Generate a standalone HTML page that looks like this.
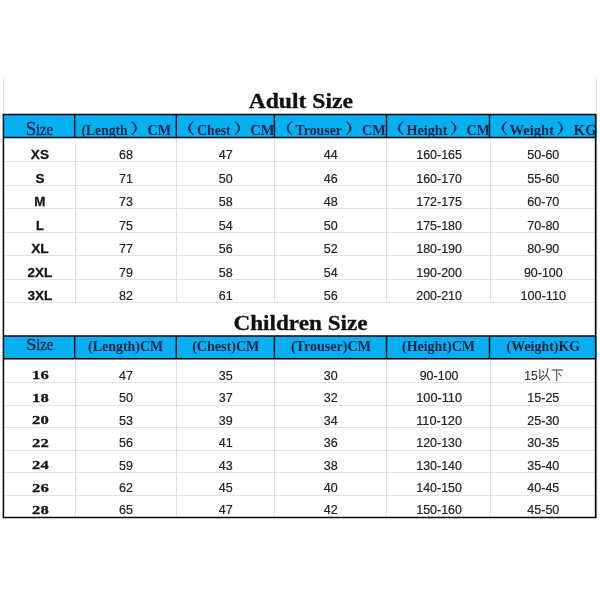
<!DOCTYPE html>
<html><head><meta charset="utf-8"><title>Size Chart</title>
<style>
html,body{margin:0;padding:0;background:#fff;}
body{width:600px;height:600px;overflow:hidden;}
svg{display:block;will-change:transform;}
text{font-family:"Liberation Sans",sans-serif;white-space:pre;}
.title{font-family:"Liberation Serif",serif;font-weight:bold;font-size:20.3px;fill:#101014;stroke:#101014;stroke-width:0.3px;}
.hb{font-family:"Liberation Serif",serif;font-weight:bold;font-size:13.9px;fill:#0d2246;}
.hs{font-family:"Liberation Serif",serif;fill:#0d2246;stroke:#0d2246;stroke-width:0.35px;}
.d{font-size:12.8px;fill:#202229;stroke:#202229;stroke-width:0.2px;}
.d15{font-size:12.8px;fill:#2b2d34;stroke:#2b2d34;stroke-width:0.08px;}
.sz{font-size:13px;font-weight:bold;fill:#14151a;stroke:#14151a;stroke-width:0.28px;}
.csz{font-family:"Liberation Serif",serif;font-weight:bold;font-size:13.2px;fill:#15151a;stroke:#15151a;stroke-width:0.3px;}
</style></head><body>
<svg width="600" height="600" viewBox="0 0 600 600">
<defs>
<clipPath id="c3"><rect x="176" y="110" width="98.2" height="30"/></clipPath>
<clipPath id="c6"><rect x="489" y="110" width="106.2" height="30"/></clipPath>
</defs>
<rect width="600" height="600" fill="#ffffff"/>
<line x1="3.50" y1="78.00" x2="3.50" y2="114.40" stroke="#E6E9ED" stroke-width="1"/>
<line x1="596.50" y1="78.00" x2="596.50" y2="114.40" stroke="#E6E9ED" stroke-width="1"/>
<rect x="3.40" y="114.40" width="593.10" height="23.15" fill="#05B0F2"/>
<rect x="3.40" y="336.00" width="593.10" height="22.80" fill="#05B0F2"/>
<line x1="3.40" y1="161.50" x2="595.70" y2="161.50" stroke="#DFE2E7" stroke-width="1"/>
<line x1="3.40" y1="185.50" x2="595.70" y2="185.50" stroke="#DFE2E7" stroke-width="1"/>
<line x1="3.40" y1="208.50" x2="595.70" y2="208.50" stroke="#DFE2E7" stroke-width="1"/>
<line x1="3.40" y1="232.50" x2="595.70" y2="232.50" stroke="#DFE2E7" stroke-width="1"/>
<line x1="3.40" y1="255.50" x2="595.70" y2="255.50" stroke="#DFE2E7" stroke-width="1"/>
<line x1="3.40" y1="279.50" x2="595.70" y2="279.50" stroke="#DFE2E7" stroke-width="1"/>
<line x1="3.40" y1="302.50" x2="595.70" y2="302.50" stroke="#DFE2E7" stroke-width="1"/>
<line x1="3.40" y1="382.50" x2="595.70" y2="382.50" stroke="#DFE2E7" stroke-width="1"/>
<line x1="3.40" y1="405.50" x2="595.70" y2="405.50" stroke="#DFE2E7" stroke-width="1"/>
<line x1="3.40" y1="427.50" x2="595.70" y2="427.50" stroke="#DFE2E7" stroke-width="1"/>
<line x1="3.40" y1="450.50" x2="595.70" y2="450.50" stroke="#DFE2E7" stroke-width="1"/>
<line x1="3.40" y1="472.50" x2="595.70" y2="472.50" stroke="#DFE2E7" stroke-width="1"/>
<line x1="3.40" y1="495.50" x2="595.70" y2="495.50" stroke="#DFE2E7" stroke-width="1"/>
<line x1="75.50" y1="137.55" x2="75.50" y2="303.00" stroke="#DFE2E7" stroke-width="1"/>
<line x1="75.50" y1="358.80" x2="75.50" y2="517.60" stroke="#DFE2E7" stroke-width="1"/>
<line x1="176.50" y1="137.55" x2="176.50" y2="303.00" stroke="#DFE2E7" stroke-width="1"/>
<line x1="176.50" y1="358.80" x2="176.50" y2="517.60" stroke="#DFE2E7" stroke-width="1"/>
<line x1="274.50" y1="137.55" x2="274.50" y2="303.00" stroke="#DFE2E7" stroke-width="1"/>
<line x1="274.50" y1="358.80" x2="274.50" y2="517.60" stroke="#DFE2E7" stroke-width="1"/>
<line x1="386.50" y1="137.55" x2="386.50" y2="303.00" stroke="#DFE2E7" stroke-width="1"/>
<line x1="386.50" y1="358.80" x2="386.50" y2="517.60" stroke="#DFE2E7" stroke-width="1"/>
<line x1="490.50" y1="137.55" x2="490.50" y2="303.00" stroke="#DFE2E7" stroke-width="1"/>
<line x1="490.50" y1="358.80" x2="490.50" y2="517.60" stroke="#DFE2E7" stroke-width="1"/>
<line x1="2.65" y1="114.40" x2="596.45" y2="114.40" stroke="#05050a" stroke-width="1.5"/>
<line x1="3.40" y1="137.55" x2="595.70" y2="137.55" stroke="#05050a" stroke-width="1.5"/>
<line x1="3.40" y1="336.00" x2="595.70" y2="336.00" stroke="#05050a" stroke-width="1.7"/>
<line x1="3.40" y1="358.80" x2="595.70" y2="358.80" stroke="#05050a" stroke-width="1.5"/>
<line x1="2.65" y1="517.60" x2="596.45" y2="517.60" stroke="#05050a" stroke-width="1.5"/>
<line x1="3.40" y1="114.40" x2="3.40" y2="517.60" stroke="#05050a" stroke-width="1.5"/>
<line x1="595.70" y1="114.40" x2="595.70" y2="517.60" stroke="#05050a" stroke-width="1.7"/>
<line x1="74.70" y1="114.40" x2="74.70" y2="137.55" stroke="#05050a" stroke-width="1.4"/>
<line x1="74.70" y1="336.00" x2="74.70" y2="358.80" stroke="#05050a" stroke-width="1.4"/>
<line x1="176.30" y1="114.40" x2="176.30" y2="137.55" stroke="#05050a" stroke-width="1.4"/>
<line x1="176.30" y1="336.00" x2="176.30" y2="358.80" stroke="#05050a" stroke-width="1.4"/>
<line x1="274.40" y1="114.40" x2="274.40" y2="137.55" stroke="#05050a" stroke-width="1.4"/>
<line x1="274.40" y1="336.00" x2="274.40" y2="358.80" stroke="#05050a" stroke-width="1.4"/>
<line x1="386.50" y1="114.40" x2="386.50" y2="137.55" stroke="#05050a" stroke-width="1.4"/>
<line x1="386.50" y1="336.00" x2="386.50" y2="358.80" stroke="#05050a" stroke-width="1.4"/>
<line x1="489.50" y1="114.40" x2="489.50" y2="137.55" stroke="#05050a" stroke-width="1.4"/>
<line x1="489.50" y1="336.00" x2="489.50" y2="358.80" stroke="#05050a" stroke-width="1.4"/>
<text class="title" x="248.70" y="107.50" textLength="104.20" lengthAdjust="spacingAndGlyphs">Adult Size</text>
<text class="title" x="233.50" y="329.90" textLength="134.10" lengthAdjust="spacingAndGlyphs">Children Size</text>
<text class="hs" font-size="18.3" x="25.80" y="134.50" textLength="10.50" lengthAdjust="spacingAndGlyphs">S</text>
<text class="hs" font-size="16.2" x="35.90" y="134.50" textLength="17.30" lengthAdjust="spacingAndGlyphs">ize</text>
<text class="hb" x="81.50" y="134.50" textLength="46.10" lengthAdjust="spacingAndGlyphs">(Length</text>
<path d="M131.80 121.50 Q141.50 128.15 131.80 134.80 Q139.10 128.15 131.80 121.50Z" fill="#0d2246" stroke="#0d2246" stroke-width="0.75" stroke-linejoin="round"/>
<text class="hb" x="147.50" y="134.50" textLength="23.70" lengthAdjust="spacingAndGlyphs">CM</text>
<path d="M193.40 121.50 Q183.70 128.15 193.40 134.80 Q186.10 128.15 193.40 121.50Z" fill="#0d2246" stroke="#0d2246" stroke-width="0.75" stroke-linejoin="round"/>
<text class="hb" x="197.10" y="134.50" textLength="33.60" lengthAdjust="spacingAndGlyphs">Chest</text>
<path d="M235.00 121.50 Q244.70 128.15 235.00 134.80 Q242.30 128.15 235.00 121.50Z" fill="#0d2246" stroke="#0d2246" stroke-width="0.75" stroke-linejoin="round"/>
<g clip-path="url(#c3)">
<text class="hb" x="250.30" y="134.50" textLength="24.30" lengthAdjust="spacingAndGlyphs">CM</text>
</g>
<path d="M291.80 121.50 Q282.10 128.15 291.80 134.80 Q284.50 128.15 291.80 121.50Z" fill="#0d2246" stroke="#0d2246" stroke-width="0.75" stroke-linejoin="round"/>
<text class="hb" x="295.60" y="134.50" textLength="46.40" lengthAdjust="spacingAndGlyphs">Trouser</text>
<path d="M346.40 121.50 Q356.10 128.15 346.40 134.80 Q353.70 128.15 346.40 121.50Z" fill="#0d2246" stroke="#0d2246" stroke-width="0.75" stroke-linejoin="round"/>
<text class="hb" x="362.00" y="134.50" textLength="23.80" lengthAdjust="spacingAndGlyphs">CM</text>
<path d="M403.00 121.50 Q393.50 128.15 403.00 134.80 Q395.90 128.15 403.00 121.50Z" fill="#0d2246" stroke="#0d2246" stroke-width="0.75" stroke-linejoin="round"/>
<text class="hb" x="406.60" y="134.50" textLength="40.80" lengthAdjust="spacingAndGlyphs">Height</text>
<path d="M451.30 121.50 Q461.00 128.15 451.30 134.80 Q458.60 128.15 451.30 121.50Z" fill="#0d2246" stroke="#0d2246" stroke-width="0.75" stroke-linejoin="round"/>
<text class="hb" x="466.60" y="134.50" textLength="23.20" lengthAdjust="spacingAndGlyphs">CM</text>
<path d="M506.70 121.50 Q497.20 128.15 506.70 134.80 Q499.60 128.15 506.70 121.50Z" fill="#0d2246" stroke="#0d2246" stroke-width="0.75" stroke-linejoin="round"/>
<text class="hb" x="509.60" y="134.50" textLength="44.40" lengthAdjust="spacingAndGlyphs">Weight</text>
<path d="M557.90 121.50 Q567.40 128.15 557.90 134.80 Q565.00 128.15 557.90 121.50Z" fill="#0d2246" stroke="#0d2246" stroke-width="0.75" stroke-linejoin="round"/>
<g clip-path="url(#c6)">
<text class="hb" x="573.60" y="134.50" textLength="23.20" lengthAdjust="spacingAndGlyphs">KG</text>
</g>
<text class="hs" font-size="17.4" x="26.10" y="350.40" textLength="10.50" lengthAdjust="spacingAndGlyphs">S</text>
<text class="hs" font-size="16.2" x="36.20" y="350.40" textLength="17.10" lengthAdjust="spacingAndGlyphs">ize</text>
<text class="hb" x="88.00" y="350.80" textLength="75.20" lengthAdjust="spacingAndGlyphs">(Length)CM</text>
<text class="hb" x="192.20" y="350.80" textLength="67.20" lengthAdjust="spacingAndGlyphs">(Chest)CM</text>
<text class="hb" x="290.90" y="350.80" textLength="80.10" lengthAdjust="spacingAndGlyphs">(Trouser)CM</text>
<text class="hb" x="402.00" y="350.80" textLength="72.90" lengthAdjust="spacingAndGlyphs">(Height)CM</text>
<text class="hb" x="506.60" y="350.80" textLength="73.60" lengthAdjust="spacingAndGlyphs">(Weight)KG</text>
<text class="sz" x="30.85" y="158.50" textLength="18.10" lengthAdjust="spacingAndGlyphs">XS</text>
<text class="d" x="118.95" y="158.70" textLength="13.90" lengthAdjust="spacingAndGlyphs">68</text>
<text class="d" x="218.85" y="158.70" textLength="13.90" lengthAdjust="spacingAndGlyphs">47</text>
<text class="d" x="323.85" y="158.70" textLength="13.90" lengthAdjust="spacingAndGlyphs">44</text>
<text class="d" x="416.25" y="158.70" textLength="45.70" lengthAdjust="spacingAndGlyphs">160-165</text>
<text class="d" x="527.30" y="158.70" textLength="32.00" lengthAdjust="spacingAndGlyphs">50-60</text>
<text class="sz" x="35.40" y="182.50" textLength="9.00" lengthAdjust="spacingAndGlyphs">S</text>
<text class="d" x="118.95" y="182.70" textLength="13.90" lengthAdjust="spacingAndGlyphs">71</text>
<text class="d" x="218.85" y="182.70" textLength="13.90" lengthAdjust="spacingAndGlyphs">50</text>
<text class="d" x="323.85" y="182.70" textLength="13.90" lengthAdjust="spacingAndGlyphs">46</text>
<text class="d" x="416.25" y="182.70" textLength="45.70" lengthAdjust="spacingAndGlyphs">160-170</text>
<text class="d" x="527.30" y="182.70" textLength="32.00" lengthAdjust="spacingAndGlyphs">55-60</text>
<text class="sz" x="34.30" y="205.50" textLength="11.20" lengthAdjust="spacingAndGlyphs">M</text>
<text class="d" x="118.95" y="205.70" textLength="13.90" lengthAdjust="spacingAndGlyphs">73</text>
<text class="d" x="218.85" y="205.70" textLength="13.90" lengthAdjust="spacingAndGlyphs">58</text>
<text class="d" x="323.85" y="205.70" textLength="13.90" lengthAdjust="spacingAndGlyphs">48</text>
<text class="d" x="416.25" y="205.70" textLength="45.70" lengthAdjust="spacingAndGlyphs">172-175</text>
<text class="d" x="527.30" y="205.70" textLength="32.00" lengthAdjust="spacingAndGlyphs">60-70</text>
<text class="sz" x="35.90" y="229.50" textLength="8.00" lengthAdjust="spacingAndGlyphs">L</text>
<text class="d" x="118.95" y="229.70" textLength="13.90" lengthAdjust="spacingAndGlyphs">75</text>
<text class="d" x="218.85" y="229.70" textLength="13.90" lengthAdjust="spacingAndGlyphs">54</text>
<text class="d" x="323.85" y="229.70" textLength="13.90" lengthAdjust="spacingAndGlyphs">50</text>
<text class="d" x="416.25" y="229.70" textLength="45.70" lengthAdjust="spacingAndGlyphs">175-180</text>
<text class="d" x="527.30" y="229.70" textLength="32.00" lengthAdjust="spacingAndGlyphs">70-80</text>
<text class="sz" x="31.15" y="252.50" textLength="17.50" lengthAdjust="spacingAndGlyphs">XL</text>
<text class="d" x="118.95" y="252.70" textLength="13.90" lengthAdjust="spacingAndGlyphs">77</text>
<text class="d" x="218.85" y="252.70" textLength="13.90" lengthAdjust="spacingAndGlyphs">56</text>
<text class="d" x="323.85" y="252.70" textLength="13.90" lengthAdjust="spacingAndGlyphs">52</text>
<text class="d" x="416.25" y="252.70" textLength="45.70" lengthAdjust="spacingAndGlyphs">180-190</text>
<text class="d" x="527.30" y="252.70" textLength="32.00" lengthAdjust="spacingAndGlyphs">80-90</text>
<text class="sz" x="27.60" y="276.50" textLength="24.60" lengthAdjust="spacingAndGlyphs">2XL</text>
<text class="d" x="118.95" y="276.70" textLength="13.90" lengthAdjust="spacingAndGlyphs">79</text>
<text class="d" x="218.85" y="276.70" textLength="13.90" lengthAdjust="spacingAndGlyphs">58</text>
<text class="d" x="323.85" y="276.70" textLength="13.90" lengthAdjust="spacingAndGlyphs">54</text>
<text class="d" x="416.25" y="276.70" textLength="45.70" lengthAdjust="spacingAndGlyphs">190-200</text>
<text class="d" x="523.88" y="276.70" textLength="38.85" lengthAdjust="spacingAndGlyphs">90-100</text>
<text class="sz" x="27.50" y="299.50" textLength="24.80" lengthAdjust="spacingAndGlyphs">3XL</text>
<text class="d" x="118.95" y="299.70" textLength="13.90" lengthAdjust="spacingAndGlyphs">82</text>
<text class="d" x="218.85" y="299.70" textLength="13.90" lengthAdjust="spacingAndGlyphs">61</text>
<text class="d" x="323.85" y="299.70" textLength="13.90" lengthAdjust="spacingAndGlyphs">56</text>
<text class="d" x="416.25" y="299.70" textLength="45.70" lengthAdjust="spacingAndGlyphs">200-210</text>
<text class="d" x="520.45" y="299.70" textLength="45.70" lengthAdjust="spacingAndGlyphs">100-110</text>
<text class="csz" x="32.10" y="379.30" textLength="16.60" lengthAdjust="spacingAndGlyphs">16</text>
<text class="d" x="118.95" y="379.60" textLength="13.90" lengthAdjust="spacingAndGlyphs">47</text>
<text class="d" x="218.85" y="379.60" textLength="13.90" lengthAdjust="spacingAndGlyphs">35</text>
<text class="d" x="323.85" y="379.60" textLength="13.90" lengthAdjust="spacingAndGlyphs">30</text>
<text class="d" x="419.68" y="379.60" textLength="38.85" lengthAdjust="spacingAndGlyphs">90-100</text>
<text class="csz" x="32.10" y="401.60" textLength="16.60" lengthAdjust="spacingAndGlyphs">18</text>
<text class="d" x="118.95" y="401.90" textLength="13.90" lengthAdjust="spacingAndGlyphs">50</text>
<text class="d" x="218.85" y="401.90" textLength="13.90" lengthAdjust="spacingAndGlyphs">37</text>
<text class="d" x="323.85" y="401.90" textLength="13.90" lengthAdjust="spacingAndGlyphs">32</text>
<text class="d" x="416.25" y="401.90" textLength="45.70" lengthAdjust="spacingAndGlyphs">100-110</text>
<text class="d" x="527.30" y="401.90" textLength="32.00" lengthAdjust="spacingAndGlyphs">15-25</text>
<text class="csz" x="32.10" y="424.20" textLength="16.60" lengthAdjust="spacingAndGlyphs">20</text>
<text class="d" x="118.95" y="424.50" textLength="13.90" lengthAdjust="spacingAndGlyphs">53</text>
<text class="d" x="218.85" y="424.50" textLength="13.90" lengthAdjust="spacingAndGlyphs">39</text>
<text class="d" x="323.85" y="424.50" textLength="13.90" lengthAdjust="spacingAndGlyphs">34</text>
<text class="d" x="416.25" y="424.50" textLength="45.70" lengthAdjust="spacingAndGlyphs">110-120</text>
<text class="d" x="527.30" y="424.50" textLength="32.00" lengthAdjust="spacingAndGlyphs">25-30</text>
<text class="csz" x="32.10" y="446.70" textLength="16.60" lengthAdjust="spacingAndGlyphs">22</text>
<text class="d" x="118.95" y="447.00" textLength="13.90" lengthAdjust="spacingAndGlyphs">56</text>
<text class="d" x="218.85" y="447.00" textLength="13.90" lengthAdjust="spacingAndGlyphs">41</text>
<text class="d" x="323.85" y="447.00" textLength="13.90" lengthAdjust="spacingAndGlyphs">36</text>
<text class="d" x="416.25" y="447.00" textLength="45.70" lengthAdjust="spacingAndGlyphs">120-130</text>
<text class="d" x="527.30" y="447.00" textLength="32.00" lengthAdjust="spacingAndGlyphs">30-35</text>
<text class="csz" x="32.10" y="469.40" textLength="16.60" lengthAdjust="spacingAndGlyphs">24</text>
<text class="d" x="118.95" y="469.70" textLength="13.90" lengthAdjust="spacingAndGlyphs">59</text>
<text class="d" x="218.85" y="469.70" textLength="13.90" lengthAdjust="spacingAndGlyphs">43</text>
<text class="d" x="323.85" y="469.70" textLength="13.90" lengthAdjust="spacingAndGlyphs">38</text>
<text class="d" x="416.25" y="469.70" textLength="45.70" lengthAdjust="spacingAndGlyphs">130-140</text>
<text class="d" x="527.30" y="469.70" textLength="32.00" lengthAdjust="spacingAndGlyphs">35-40</text>
<text class="csz" x="32.10" y="492.00" textLength="16.60" lengthAdjust="spacingAndGlyphs">26</text>
<text class="d" x="118.95" y="492.30" textLength="13.90" lengthAdjust="spacingAndGlyphs">62</text>
<text class="d" x="218.85" y="492.30" textLength="13.90" lengthAdjust="spacingAndGlyphs">45</text>
<text class="d" x="323.85" y="492.30" textLength="13.90" lengthAdjust="spacingAndGlyphs">40</text>
<text class="d" x="416.25" y="492.30" textLength="45.70" lengthAdjust="spacingAndGlyphs">140-150</text>
<text class="d" x="527.30" y="492.30" textLength="32.00" lengthAdjust="spacingAndGlyphs">40-45</text>
<text class="csz" x="32.10" y="513.90" textLength="16.60" lengthAdjust="spacingAndGlyphs">28</text>
<text class="d" x="118.95" y="514.20" textLength="13.90" lengthAdjust="spacingAndGlyphs">65</text>
<text class="d" x="218.85" y="514.20" textLength="13.90" lengthAdjust="spacingAndGlyphs">47</text>
<text class="d" x="323.85" y="514.20" textLength="13.90" lengthAdjust="spacingAndGlyphs">42</text>
<text class="d" x="416.25" y="514.20" textLength="45.70" lengthAdjust="spacingAndGlyphs">150-160</text>
<text class="d" x="527.30" y="514.20" textLength="32.00" lengthAdjust="spacingAndGlyphs">45-50</text>
<text class="d15" x="524.20" y="379.70" textLength="13.50" lengthAdjust="spacingAndGlyphs">15</text>
<g fill="none" stroke="#3c3f47" stroke-width="1.05" stroke-linecap="round" stroke-linejoin="round"><path d="M539.8 369.3 L539.8 378.6 L543.6 375.2"/><path d="M542.6 370.9 L543.9 372.6"/><path d="M547.9 368.3 C547.6 373.2 545.2 377.6 541.2 380.3"/><path d="M546.6 375.4 L549.9 380.3"/><path d="M552.0 370.0 L562.6 370.0"/><path d="M556.7 370.0 L556.7 380.5"/><path d="M558.6 373.4 L561.2 376.0"/></g>
</svg>
</body></html>
